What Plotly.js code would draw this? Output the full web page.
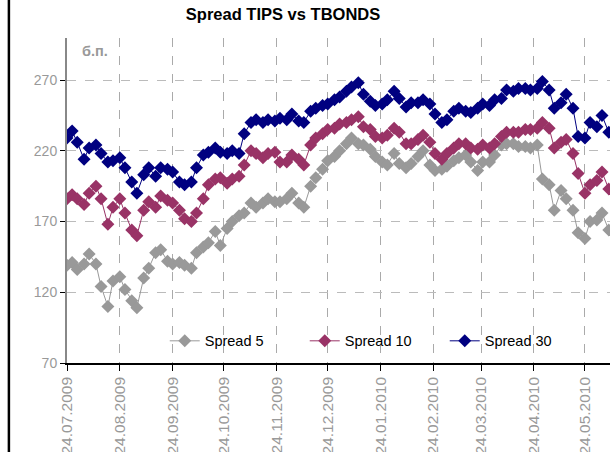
<!DOCTYPE html>
<html>
<head>
<meta charset="utf-8">
<script src="https://cdn.plot.ly/plotly-3.0.1.min.js"></script>
<style>
  html, body { margin: 0; padding: 0; background: #fff; }
  #chart { width: 610px; height: 452px; }
</style>
</head>
<body>
<div id="chart"></div>
<script>
// dates (two samples a week)
var dates = [
  '2009-07-24','2009-07-27','2009-07-30','2009-08-03','2009-08-06','2009-08-10','2009-08-13','2009-08-17','2009-08-20','2009-08-24',
  '2009-08-27','2009-08-31','2009-09-03','2009-09-07','2009-09-10','2009-09-14','2009-09-17','2009-09-21','2009-09-24','2009-09-28',
  '2009-10-01','2009-10-05','2009-10-08','2009-10-12','2009-10-15','2009-10-19','2009-10-22','2009-10-26','2009-10-29','2009-11-02',
  '2009-11-05','2009-11-09','2009-11-12','2009-11-16','2009-11-19','2009-11-23','2009-11-26','2009-11-30','2009-12-03','2009-12-07',
  '2009-12-10','2009-12-14','2009-12-17','2009-12-21','2009-12-24','2009-12-28','2009-12-31','2010-01-04','2010-01-07','2010-01-11',
  '2010-01-14','2010-01-18','2010-01-21','2010-01-25','2010-01-28','2010-02-01','2010-02-04','2010-02-08','2010-02-11','2010-02-15',
  '2010-02-18','2010-02-22','2010-02-25','2010-03-01','2010-03-04','2010-03-08','2010-03-11','2010-03-15','2010-03-18','2010-03-22',
  '2010-03-25','2010-03-29','2010-04-01','2010-04-05','2010-04-08','2010-04-12','2010-04-15','2010-04-19','2010-04-22','2010-04-26',
  '2010-04-29','2010-05-03','2010-05-06','2010-05-10','2010-05-13','2010-05-17','2010-05-20','2010-05-24','2010-05-27','2010-05-31',
  '2010-06-03','2010-06-07'
];

var spread5 = [
  139,141,136,140,147,140,124,110,128,131,
  122,114,109,130,137,148,150,142,140,141,
  139,137,148,152,155,163,153,165,170,174,
  176,183,180,183,186,184,184,186,190,183,
  180,195,201,207,213,216,220,225,229,225,
  224,221,216,212,210,218,211,208,211,216,
  220,210,206,207,209,213,215,217,212,206,
  212,212,217,224,225,225,223,223,222,224,
  200,196,178,192,186,178,162,158,170,171,
  176,164
];

var spread10 = [
  186,189,186,182,190,195,186,168,180,186,
  176,164,160,178,184,180,188,185,183,178,
  172,170,176,186,196,200,201,197,200,202,
  210,220,218,215,218,219,212,212,217,214,
  210,224,229,232,235,236,239,240,242,244,
  237,235,230,229,231,236,233,225,225,228,
  231,226,218,214,218,222,225,225,222,221,
  224,222,225,230,233,233,233,235,235,236,
  240,236,222,226,228,218,204,190,196,199,
  205,193
];

var spread30 = [
  229,234,226,214,222,224,218,212,213,215,
  208,198,190,203,208,202,208,207,205,198,
  196,198,208,217,219,222,219,218,220,218,
  232,240,242,240,242,241,243,242,246,241,
  240,248,250,252,253,256,258,262,265,268,
  260,255,252,253,256,262,257,251,254,254,
  256,253,246,240,242,248,250,248,247,250,
  253,252,256,257,263,262,264,264,263,264,
  269,263,250,254,260,250,230,229,240,237,
  245,233
];

var tickDates = ['2009-07-24','2009-08-24','2009-09-24','2009-10-24','2009-11-24','2009-12-24',
                 '2010-01-24','2010-02-24','2010-03-24','2010-04-24','2010-05-24'];
var tickLabels = ['24.07.2009','24.08.2009','24.09.2009','24.10.2009','24.11.2009','24.12.2009',
                  '24.01.2010','24.02.2010','24.03.2010','24.04.2010','24.05.2010'];

var names = ['Spread 5', 'Spread 10', 'Spread 30'];
var colors = ['#999999', '#993366', '#000080'];
var series = [spread5, spread10, spread30];

var data = series.map(function(s, i) {
  return {
    x: dates, y: s, name: names[i], type: 'scatter', mode: 'lines+markers',
    line: {color: colors[i], width: 1},
    marker: {symbol: 'diamond', size: 10, color: colors[i]}
  };
});

var layout = {
  width: 610, height: 452,
  margin: {l: 67, r: 0, t: 38, b: 89},
  paper_bgcolor: '#fff', plot_bgcolor: '#fff',
  font: {family: 'Liberation Sans, Arial, sans-serif', size: 14, color: '#000'},
  title: {
    text: '<b>Spread TIPS vs TBONDS</b>',
    font: {size: 16.5, color: '#000'},
    x: 0.464, xref: 'container', xanchor: 'center',
    y: 0.969, yref: 'container', yanchor: 'middle'
  },
  showlegend: true,
  legend: {
    orientation: 'h', x: 0.18, xanchor: 'left', y: 0.068, yanchor: 'middle',
    entrywidth: 95, entrywidthmode: 'pixels',
    bgcolor: 'rgba(0,0,0,0)', font: {size: 14.5, color: '#000'}
  },
  xaxis: {
    type: 'date',
    range: ['2009-07-24', '2010-06-07 17:00'],
    tickvals: tickDates, ticktext: tickLabels,
    tickangle: -90,
    tickfont: {size: 15.5, color: '#999999'},
    ticks: 'outside', ticklen: 6, tickcolor: '#000',
    showline: true, linecolor: '#000', linewidth: 1.5,
    showgrid: true, gridcolor: '#aaaaaa', griddash: 'dash', gridwidth: 1,
    zeroline: false
  },
  yaxis: {
    range: [70, 299.7],
    tickvals: [70, 120, 170, 220, 270],
    tickfont: {size: 14, color: '#999999'},
    ticks: 'outside', ticklen: 5, tickcolor: '#000',
    showline: true, linecolor: '#888888', linewidth: 2,
    showgrid: true, gridcolor: '#bbbbbb', griddash: 'dash', gridwidth: 1,
    zeroline: false
  },
  annotations: [{
    text: '<b>б.п.</b>', xref: 'paper', yref: 'paper', x: 0.024, y: 0.96,
    xanchor: 'left', yanchor: 'middle', showarrow: false,
    font: {size: 14.5, color: '#999999'}
  }],
  shapes: [{
    type: 'line', xref: 'paper', yref: 'paper',
    x0: -0.107, x1: -0.107, y0: -0.28, y1: 1.12,
    line: {color: '#000', width: 2.5}
  }]
};

Plotly.newPlot('chart', data, layout, {displayModeBar: false});
</script>
</body>
</html>
